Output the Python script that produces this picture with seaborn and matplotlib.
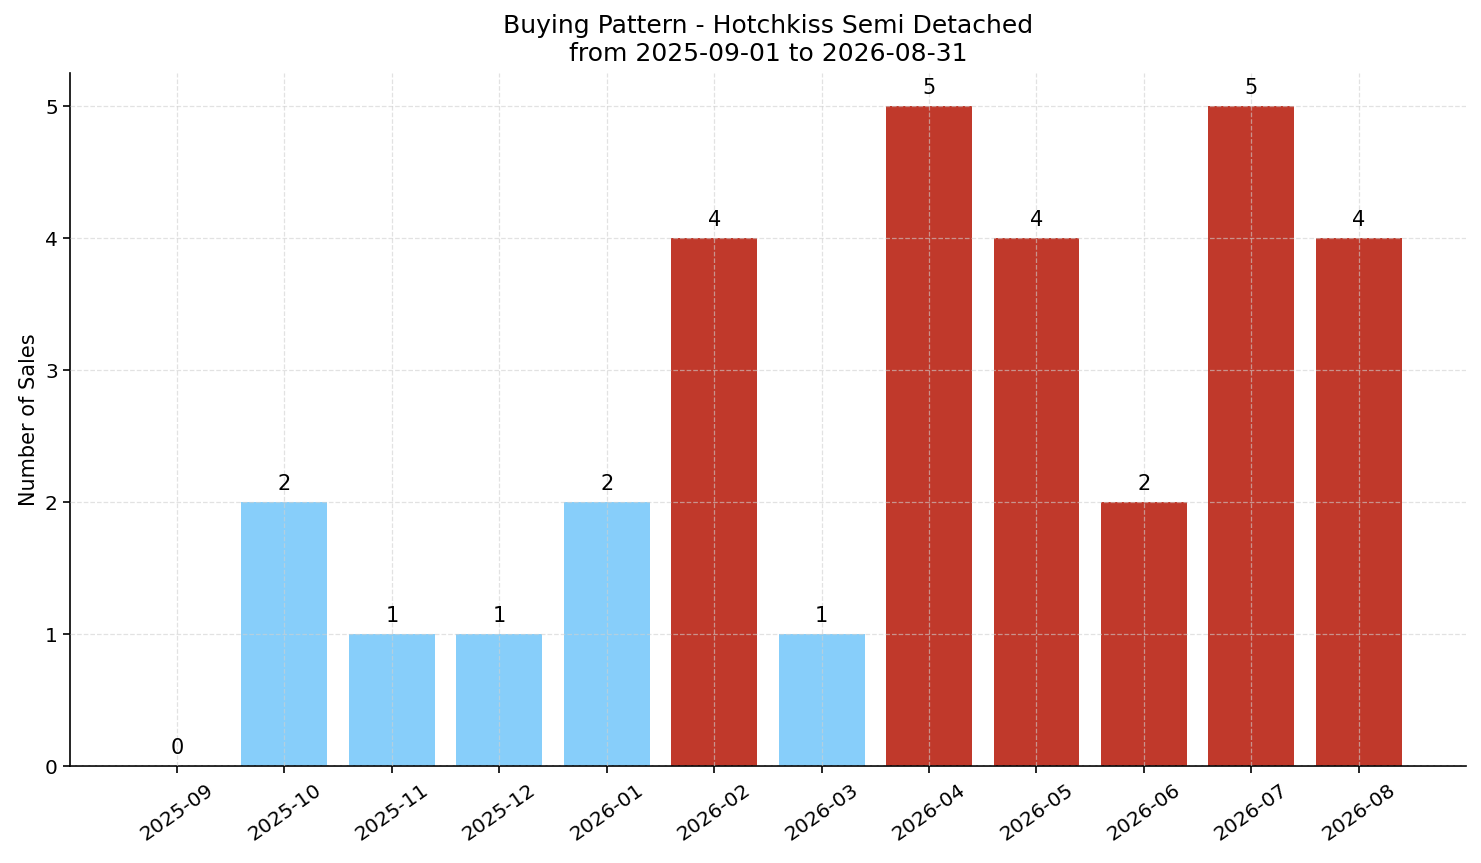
import matplotlib
matplotlib.use('Agg')
import matplotlib.pyplot as plt
import seaborn as sns

months = ['2025-09', '2025-10', '2025-11', '2025-12', '2026-01', '2026-02',
          '2026-03', '2026-04', '2026-05', '2026-06', '2026-07', '2026-08']
sales = [0, 2, 1, 1, 2, 4, 1, 5, 4, 2, 5, 4]
highlight = [False, False, False, False, False, True,
             False, True, True, True, True, True]

blue = '#87CEFA'
red = '#C0392B'
colors = [red if h else blue for h in highlight]

sns.set_style('ticks')
plt.rcParams['font.family'] = ['DejaVu Sans']
plt.rcParams['text.color'] = 'black'
plt.rcParams['axes.labelcolor'] = 'black'
plt.rcParams['xtick.color'] = 'black'
plt.rcParams['ytick.color'] = 'black'

fig, ax = plt.subplots(figsize=(14.81, 8.63), dpi=100)
sns.barplot(x=months, y=sales, hue=months, palette=colors, legend=False,
            width=0.8, saturation=1, edgecolor='none', linewidth=0, ax=ax)

for c in ax.containers:
    ax.bar_label(c, padding=6, fontsize=15, color='black')

ax.set_xlim(-1, 12)
ax.set_ylim(0, 5.25)
ax.set_axisbelow(False)
ax.grid(True, linestyle='--', color='#d0d0d0', alpha=0.6, linewidth=0.9)
ax.tick_params(axis='x', rotation=35, labelsize=14.5, pad=5)
ax.tick_params(axis='y', labelsize=14.5)
ax.tick_params(axis='both', which='major', length=5, width=1.2, bottom=True, left=True)
for lbl in ax.get_xticklabels():
    lbl.set_horizontalalignment('center')
sns.despine(ax=ax)
for s in ['left', 'bottom']:
    ax.spines[s].set_color('black')
    ax.spines[s].set_linewidth(1.2)

ax.set_title('Buying Pattern - Hotchkiss Semi Detached\nfrom 2025-09-01 to 2026-08-31',
             fontsize=18, pad=9)
ax.set_ylabel('Number of Sales', fontsize=15)
ax.set_xlabel('')

plt.subplots_adjust(left=0.047, right=0.99, top=0.915, bottom=0.112)
plt.savefig('out.png', dpi=100)
